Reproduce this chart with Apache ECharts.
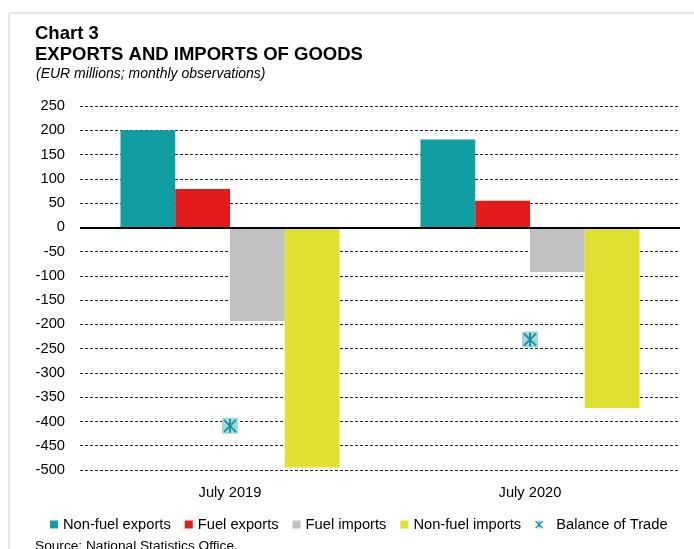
<!DOCTYPE html>
<html>
<head>
<meta charset="utf-8">
<script src="https://cdn.jsdelivr.net/npm/echarts@6/dist/echarts.min.js"></script>
<style>
  html, body { margin: 0; padding: 0; background: #fff; }
  #chart { width: 694px; height: 549px; }
</style>
</head>
<body>
<div id="chart"></div>
<script>
// Monthly goods trade, EUR millions
const categories = ['July 2019', 'July 2020'];
const nonFuelExports = [200, 181];
const fuelExports = [79, 55];
const fuelImports = [-193, -92];
const nonFuelImports = [-495, -372];
const balanceOfTrade = [-409, -231];
const yTicks = { min: -500, max: 250, interval: 50 };

const FONT = '"Liberation Sans", Arial, sans-serif';
const LABEL_SIZE = 14.7;
const TEAL = '#109ea3';

const chart = echarts.init(document.getElementById('chart'), null, { renderer: 'canvas' });

function barSeries(name, data, color) {
  return {
    name, type: 'bar', data,
    barGap: '0%', barCategoryGap: '27%',
    itemStyle: { color },
    emphasis: { disabled: true },
    animation: false
  };
}

// asterisk-in-a-box marker for the trade balance
function renderBalance(params, api) {
  const p = api.coord([api.value(0), api.value(1)]);
  const h = 8, a = 6;
  const lineStyle = { stroke: '#1797a0', lineWidth: 2 };
  return {
    type: 'group',
    children: [
      { type: 'rect', shape: { x: p[0] - h, y: p[1] - h, width: 2 * h, height: 2 * h }, style: { fill: '#a7d7dc' } },
      { type: 'line', shape: { x1: p[0], y1: p[1] - a - 1, x2: p[0], y2: p[1] + a + 1 }, style: lineStyle },
      { type: 'line', shape: { x1: p[0] - a, y1: p[1] - a, x2: p[0] + a, y2: p[1] + a }, style: lineStyle },
      { type: 'line', shape: { x1: p[0] + a, y1: p[1] - a, x2: p[0] - a, y2: p[1] + a }, style: lineStyle }
    ]
  };
}

const option = {
  animation: false,
  backgroundColor: '#fff',
  textStyle: { fontFamily: FONT },
  grid: { left: 80, right: 14, top: 106, bottom: 79 },
  graphic: [
    { type: 'line', shape: { x1: 9, y1: 13, x2: 694, y2: 13 }, style: { stroke: '#e6e6e6', lineWidth: 2 } },
    { type: 'line', shape: { x1: 9, y1: 13, x2: 9, y2: 549 }, style: { stroke: '#e6e6e6', lineWidth: 2 } },
    { type: 'text', style: { text: 'Chart 3', x: 35, y: 34, font: 'bold 18.5px ' + FONT, fill: '#000', verticalAlign: 'middle' } },
    { type: 'text', style: { text: 'EXPORTS AND IMPORTS OF GOODS', x: 35, y: 55, font: 'bold 18.5px ' + FONT, fill: '#000', verticalAlign: 'middle' } },
    { type: 'text', style: { text: '(EUR millions; monthly observations)', x: 36, y: 74, font: 'italic 14px ' + FONT, fill: '#000', verticalAlign: 'middle' } },
    { type: 'text', style: { text: 'Source: National Statistics Office.', x: 35, y: 546, font: '13.7px ' + FONT, fill: '#000', verticalAlign: 'middle' } }
  ],
  legend: {
    left: 45, top: 512,
    itemWidth: 8, itemHeight: 8, itemGap: 14,
    textStyle: { fontSize: LABEL_SIZE, color: '#000', fontFamily: FONT },
    formatter: name => (name === 'Balance of Trade' ? '  ' + name : name),
    data: [
      { name: 'Non-fuel exports', icon: 'rect' },
      { name: 'Fuel exports', icon: 'rect' },
      { name: 'Fuel imports', icon: 'rect' },
      { name: 'Non-fuel imports', icon: 'rect' },
      { name: 'Balance of Trade', icon: 'path://M4,0h1v9h-1z M0,1l1,-1l8,8l-1,1z M8,0l1,1l-8,8l-1,-1z' }
    ],
    selectedMode: false
  },
  xAxis: {
    type: 'category',
    data: categories,
    boundaryGap: true,
    axisLine: { show: false, onZero: false },
    axisTick: { show: false },
    axisLabel: { fontSize: LABEL_SIZE, color: '#000', margin: 15, fontFamily: FONT }
  },
  yAxis: {
    type: 'value',
    min: yTicks.min, max: yTicks.max, interval: yTicks.interval,
    axisLine: { show: false },
    axisTick: { show: false },
    axisLabel: { fontSize: LABEL_SIZE, color: '#000', margin: 15, fontFamily: FONT },
    splitLine: { lineStyle: { color: '#222', width: 1, type: [3, 2] } }
  },
  series: [
    Object.assign(barSeries('Non-fuel exports', nonFuelExports, TEAL), {
      markLine: {
        silent: true, symbol: 'none', label: { show: false },
        lineStyle: { color: '#000', width: 2, type: 'solid' },
        data: [{ yAxis: 0 }]
      }
    }),
    barSeries('Fuel exports', fuelExports, '#e31b1c'),
    barSeries('Fuel imports', fuelImports, '#c1c1c1'),
    barSeries('Non-fuel imports', nonFuelImports, '#e0e030'),
    {
      name: 'Balance of Trade',
      type: 'custom',
      renderItem: renderBalance,
      itemStyle: { color: '#1797a0' },
      data: balanceOfTrade.map((v, i) => [i, v]),
      encode: { x: 0, y: 1 },
      z: 5
    }
  ]
};

chart.setOption(option);
</script>
</body>
</html>
